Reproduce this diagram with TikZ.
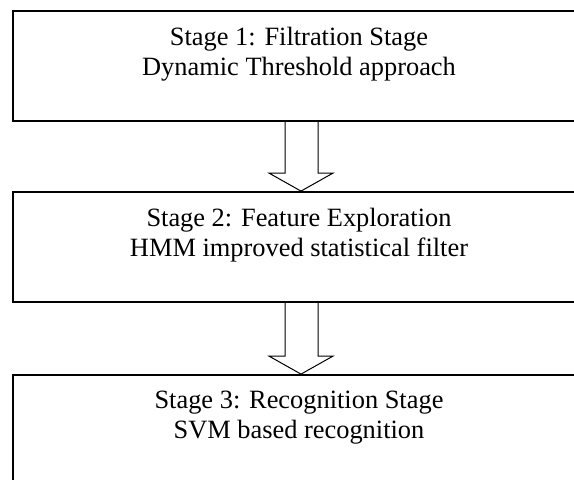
\documentclass[tikz,border=0pt]{standalone}
\usepackage{fontspec}
\setmainfont{Liberation Serif}
\begin{document}
\begin{tikzpicture}[x=1pt,y=1pt,
  stagebox/.style={draw=black, line width=1.8pt, rectangle, inner sep=0pt,
    minimum width=572pt, minimum height=110pt},
  stagetext/.style={anchor=north, inner sep=0pt, align=center,
    font=\fontsize{26.4}{30}\selectfont, yshift=-17pt},
  blockarrow/.style={draw=black, line width=1pt, line join=miter}]
\useasboundingbox (0,0) rectangle (574,-480);
\clip (0,0) rectangle (574,-480);
\node[stagebox] (b1) at (299,-66) {};
\node[stagebox] (b2) at (299,-247) {};
\node[stagebox, minimum height=125pt] (b3) at (299,-437.5) {};
\node[stagetext] (t1) at (b1.north) {Stage 1: Filtration Stage\\Dynamic Threshold approach};
\node[stagetext] (t2) at (b2.north) {Stage 2: Feature Exploration\\HMM improved statistical filter};
\node[stagetext] (t3) at (b3.north) {Stage 3: Recognition Stage\\SVM based recognition};
\draw[blockarrow] ([xshift=-14pt]b1.south) -- ([xshift=-14pt,yshift=18pt]b2.north)
  -- ([xshift=-30pt,yshift=18pt]b2.north) -- ([xshift=2pt]b2.north)
  -- ([xshift=34pt,yshift=18pt]b2.north) -- ([xshift=19pt,yshift=18pt]b2.north)
  -- ([xshift=19pt]b1.south);
\draw[blockarrow] ([xshift=-14pt]b2.south) -- ([xshift=-14pt,yshift=18pt]b3.north)
  -- ([xshift=-30pt,yshift=18pt]b3.north) -- ([xshift=2pt]b3.north)
  -- ([xshift=34pt,yshift=18pt]b3.north) -- ([xshift=19pt,yshift=18pt]b3.north)
  -- ([xshift=19pt]b2.south);
\end{tikzpicture}
\end{document}
